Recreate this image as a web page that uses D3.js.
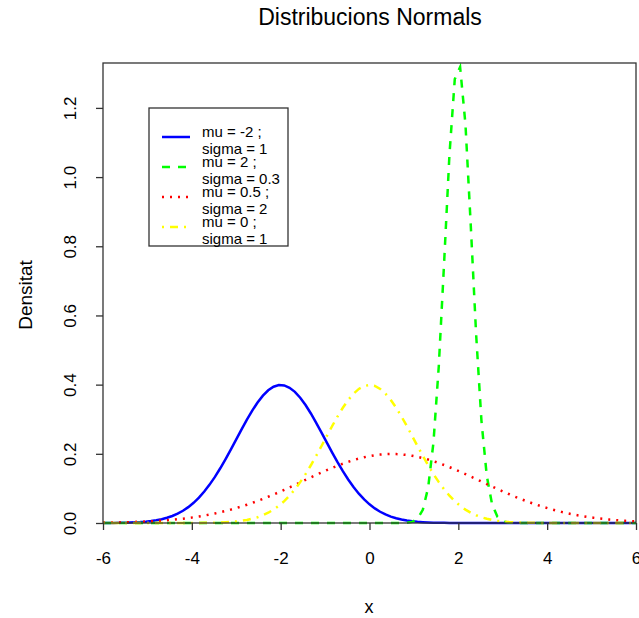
<!DOCTYPE html>
<html>
<head>
<meta charset="utf-8">
<script src="https://cdn.jsdelivr.net/npm/d3@7"></script>
<style>
  body { margin: 0; background: #fff; }
  text { font-family: "Liberation Sans", Arial, sans-serif; fill: #000; }
</style>
</head>
<body>
<svg width="639" height="618"></svg>
<script>
// parameters of each normal curve (as given in the legend)
var mus = [-2, 2, 0.5, 0];
var sigmas = [1, 0.3, 2, 1];
var colors = ["#0000ff", "#00ff00", "#ff0000", "#ffff00"];
var dashes = [null, "8,8", "2,6", "2,6,8,6"];
var labels1 = ["mu = -2 ;", "mu = 2 ;", "mu = 0.5 ;", "mu = 0 ;"];
var labels2 = ["sigma = 1", "sigma = 0.3", "sigma = 2", "sigma = 1"];
var xTicks = [-6, -4, -2, 0, 2, 4, 6];
var yTicks = [0, 0.2, 0.4, 0.6, 0.8, 1.0, 1.2];
var nPoints = 101; // like R's curve()

var svg = d3.select("svg"),
    pLeft = 103, pRight = 636, pTop = 63, pBottom = 523;

var x = d3.scaleLinear().domain([-6, 6]).range([pLeft, pRight]);
var yMax = 1 / (0.3 * Math.sqrt(2 * Math.PI));
var y = d3.scaleLinear().domain([0, yMax]).range([pBottom, pTop]);

function dnorm(v, m, s) {
  return Math.exp(-0.5 * ((v - m) / s) * ((v - m) / s)) / (s * Math.sqrt(2 * Math.PI));
}

var xs = d3.range(nPoints).map(function(i) { return -6 + 12 * i / (nPoints - 1); });

svg.append("defs").append("clipPath").attr("id", "clip")
  .append("rect").attr("x", pLeft).attr("y", pTop - 2)
  .attr("width", pRight - pLeft).attr("height", pBottom - pTop + 4);

var line = d3.line()
  .x(function(d) { return x(d[0]); })
  .y(function(d) { return y(d[1]); });

var curves = svg.append("g").attr("clip-path", "url(#clip)");
mus.forEach(function(m, i) {
  var pts = xs.map(function(v) { return [v, dnorm(v, m, sigmas[i])]; });
  curves.append("path")
    .datum(pts)
    .attr("d", line)
    .attr("fill", "none")
    .attr("stroke", colors[i])
    .attr("stroke-width", 2.5)
    .attr("stroke-dasharray", dashes[i]);
});

// box
svg.append("rect")
  .attr("x", pLeft).attr("y", pTop)
  .attr("width", pRight - pLeft).attr("height", pBottom - pTop)
  .attr("fill", "none").attr("stroke", "#333").attr("stroke-width", 1.3);

// axes
var xAxis = svg.append("g")
  .attr("transform", "translate(0," + pBottom + ")")
  .call(d3.axisBottom(x).tickValues(xTicks).tickSize(7).tickPadding(22)
    .tickFormat(function(d) { return String(d); }));
xAxis.select(".domain").remove();
xAxis.selectAll("line").attr("stroke", "#333").attr("stroke-width", 1.3);
xAxis.selectAll("text").style("font-size", "17px");

var yAxis = svg.append("g")
  .attr("transform", "translate(" + pLeft + ",0)")
  .call(d3.axisLeft(y).tickValues(yTicks).tickSize(7).tickFormat(d3.format(".1f")));
yAxis.select(".domain").remove();
yAxis.selectAll("line").attr("stroke", "#333").attr("stroke-width", 1.3);
yAxis.selectAll("text")
  .style("font-size", "17px")
  .attr("text-anchor", "middle")
  .attr("x", 0).attr("dy", "0.35em")
  .attr("transform", "translate(-33,0) rotate(-90)");

// titles
svg.append("text").attr("x", 370).attr("y", 25)
  .attr("text-anchor", "middle").style("font-size", "23px")
  .text("Distribucions Normals");
svg.append("text").attr("x", 369).attr("y", 613)
  .attr("text-anchor", "middle").style("font-size", "18px").text("x");
svg.append("text")
  .attr("transform", "translate(32,295) rotate(-90)")
  .attr("text-anchor", "middle").style("font-size", "19px").text("Densitat");

// legend
var lg = svg.append("g");
lg.append("rect").attr("x", 149).attr("y", 108).attr("width", 139).attr("height", 138)
  .attr("fill", "#fff").attr("stroke", "#333").attr("stroke-width", 1.3);
mus.forEach(function(m, i) {
  var cy = 137 + i * 30;
  lg.append("line")
    .attr("x1", 162).attr("x2", 190).attr("y1", cy).attr("y2", cy)
    .attr("stroke", colors[i]).attr("stroke-width", 2.5)
    .attr("stroke-dasharray", dashes[i]);
  lg.append("text").attr("x", 202).attr("y", cy - 5)
    .attr("dy", "0.35em").style("font-size", "15px").text(labels1[i]);
  lg.append("text").attr("x", 202).attr("y", cy + 12)
    .attr("dy", "0.35em").style("font-size", "15px").text(labels2[i]);
});
</script>
</body>
</html>
